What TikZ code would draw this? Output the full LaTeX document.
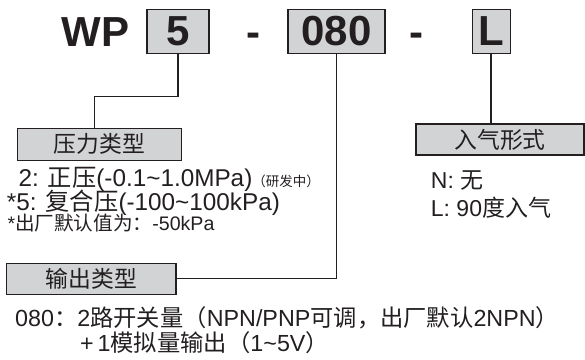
\documentclass[tikz,border=0pt]{standalone}
\usepackage{fontspec}
\setmainfont{Liberation Sans}
\newfontfamily\cjk{Noto Sans CJK SC}
\newcommand\zh[1]{{\cjk #1}}
\newcommand\tld{\char"007E\relax}
\definecolor{boxfill}{HTML}{D1D3D4}
\definecolor{ink}{HTML}{231F20}
\begin{document}
\begin{tikzpicture}[x=1pt,y=-1pt,
  codebox/.style={draw=ink, fill=boxfill, line width=1.3pt, inner sep=0pt, text=ink,
    font=\fontsize{42}{42}\selectfont\bfseries},
  titlebox/.style={draw=ink, fill=boxfill, line width=1.1pt, inner sep=0pt, text=ink,
    font=\fontsize{22.8}{22.8}\selectfont\cjk},
  bigtext/.style={text=ink, inner sep=0pt, anchor=base west, font=\fontsize{42}{42}\selectfont\bfseries},
  desc/.style={text=ink, inner sep=0pt, anchor=base west, font=\fontsize{24.3}{24.3}\selectfont},
  descsmall/.style={text=ink, inner sep=0pt, anchor=base west, font=\fontsize{19.6}{19.6}\selectfont},
  inlet/.style={text=ink, inner sep=0pt, anchor=base west, font=\fontsize{23}{23}\selectfont},
  bottomtext/.style={text=ink, inner sep=0pt, anchor=base west, font=\fontsize{23.3}{23.3}\selectfont},
  conn/.style={draw=ink, line width=1.5pt}]
\useasboundingbox (0,0) rectangle (585,359);

% top code
\node[bigtext] (wp) at (61.5,46.7) {WP};
\node[codebox, minimum width=62pt, minimum height=44pt] (b5) at (178,31.5) {5};
\node[bigtext, anchor=base] (d1) at (253,46.7) {-};
\node[codebox, minimum width=97pt, minimum height=44pt] (b080) at (336.5,31.5) {080};
\node[bigtext, anchor=base] (d2) at (416.7,46.7) {-};
\node[codebox, minimum width=38pt, minimum height=44pt] (bL) at (491.2,31.5) {L};

% title boxes
\node[titlebox, minimum width=164.4pt, minimum height=31.7pt] (t1) at (99.5,144.2) {压力类型};
\node[titlebox, minimum width=168pt, minimum height=31pt] (t3) at (500,139.5) {入气形式};
\node[titlebox, minimum width=169.3pt, minimum height=30.7pt] (t2) at (91.3,278.7) {输出类型};

% connectors
\coordinate (k1) at (94.3,96.7);
\draw[conn] (b5.south) |- (k1) -- (k1 |- t1.north);
\draw[conn] (b080.south) |- (t2.east);
\draw[conn] (bL.south) -- (bL.south |- t3.north);

% pressure type descriptions
\node[desc] (p1) at (18.3,186.7) {2: \zh{正压}(-0.1\tld 1.0MPa){\fontsize{13.5}{13.5}\selectfont\cjk （研发中）}};
\node[desc] (p2) at (6.7,210) {*5: \zh{复合压}(-100\tld 100kPa)};
\node[descsmall] (p3) at (7.3,230) {*\zh{出厂默认值为：}-50kPa};

% inlet descriptions
\node[inlet] (n1) at (430.7,188.3) {N: \zh{无}};
\node[inlet] (n2) at (430.7,216.7) {L: 90\zh{度入气}};

% output descriptions
\node[bottomtext] (o1) at (15,326.7) {080\zh{：}2\zh{路开关量（}NPN/PNP\zh{可调，出厂默认}2NPN\zh{）}};
\node[bottomtext] (o2) at (80,351.7) {+\,1\zh{模拟量输出（}1\tld 5V\zh{）}};
\end{tikzpicture}
\end{document}
